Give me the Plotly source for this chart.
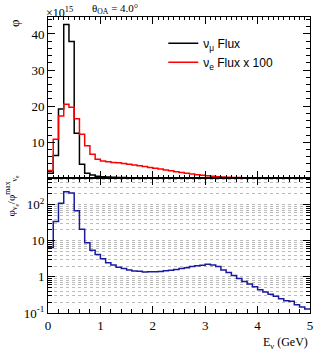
import numpy as np
import plotly.graph_objects as go

# bin edges 0..5 GeV, 0.1 GeV bins
edges = [round(0.1 * i, 1) for i in range(51)]

numu_flux = [1.4, 6.3, 19.2, 42.6, 37.9, 12.5, 3.9, 1.4, 0.9, 0.6,
             0.45, 0.35, 0.3, 0.25, 0.2, 0.17, 0.15, 0.13, 0.12, 0.11,
             0.1, 0.09, 0.08, 0.08, 0.07, 0.07, 0.06, 0.06, 0.06, 0.05,
             0.05, 0.05, 0.04, 0.04, 0.03, 0.03, 0.03, 0.02, 0.02, 0.02,
             0.02, 0.02, 0.01, 0.01, 0.01, 0.01, 0.01, 0.01, 0.01, 0.01]

nue_flux_x100 = [2.2, 10.8, 17.3, 20.5, 19.7, 16.5, 12.2, 9.0, 6.7, 5.3,
                 4.8, 4.6, 4.4, 4.3, 4.1, 3.9, 3.7, 3.5, 3.3, 3.0,
                 2.8, 2.6, 2.3, 2.1, 1.8, 1.6, 1.4, 1.2, 1.0, 0.85,
                 0.7, 0.55, 0.45, 0.36, 0.3, 0.25, 0.21, 0.17, 0.14, 0.12,
                 0.1, 0.08, 0.07, 0.06, 0.05, 0.045, 0.04, 0.035, 0.03, 0.025]

ratio = [6.5, 34, 109, 229, 210, 68, 21, 8.8, 5.5, 4.2,
         3.2, 2.45, 2.15, 1.85, 1.7, 1.55, 1.45, 1.43, 1.36, 1.38,
         1.38, 1.40, 1.47, 1.52, 1.6, 1.72, 1.8, 1.93, 2.05, 2.1,
         2.25, 2.15, 1.93, 1.56, 1.32, 1.09, 0.90, 0.74, 0.64, 0.53,
         0.44, 0.38, 0.33, 0.29, 0.25, 0.22, 0.21, 0.17, 0.146, 0.13]

log_tickvals = [0.1, 1, 10, 100]
log_ticktext = ["10<sup>-1</sup>", "1", "10", "10<sup>2</sup>"]

def step(vals):
    return list(vals) + [vals[-1]]

SERIF = "Liberation Serif"
SANS = "Liberation Sans"

fig = go.Figure()
fig.add_trace(go.Scatter(x=edges, y=step(numu_flux), mode="lines", line_shape="hv",
                         line=dict(color="black", width=1.5),
                         name="ν<sub>μ</sub> Flux", xaxis="x", yaxis="y"))
fig.add_trace(go.Scatter(x=edges, y=step(nue_flux_x100), mode="lines", line_shape="hv",
                         line=dict(color="#ff0000", width=1.5),
                         name="ν<sub>e</sub> Flux x 100", xaxis="x", yaxis="y"))
fig.add_trace(go.Scatter(x=edges, y=step(ratio), mode="lines", line_shape="hv",
                         line=dict(color="#1a1aa0", width=1.5),
                         showlegend=False, xaxis="x2", yaxis="y2"))

axcommon = dict(showline=True, linecolor="black", linewidth=1, mirror="ticks",
                ticks="inside", tickcolor="black", ticklen=7, tickwidth=1,
                zeroline=False, showgrid=False)

fig.update_layout(
    width=327, height=359,
    margin=dict(l=47.5, r=17, t=17, b=45.5),
    paper_bgcolor="white", plot_bgcolor="white",
    font=dict(family=SERIF, size=13, color="black"),
    showlegend=True,
    legend=dict(x=0.44, y=0.96, xanchor="left", yanchor="top",
                bgcolor="rgba(0,0,0,0)", font=dict(family=SANS, size=12),
                tracegroupgap=0, itemwidth=30),
    xaxis=dict(domain=[0, 1], range=[0, 5], anchor="y", showticklabels=False,
               dtick=1, minor=dict(dtick=0.1, ticks="inside", ticklen=3, tickcolor="black"),
               **axcommon),
    yaxis=dict(domain=[0.455, 1], range=[0, 44.7], anchor="x",
               tickvals=[10, 20, 30, 40],
               minor=dict(dtick=2, ticks="inside", ticklen=4, tickcolor="black"),
               **axcommon),
    xaxis2=dict(domain=[0, 1], range=[0, 5], anchor="y2",
                dtick=1, minor=dict(dtick=0.2, ticks="inside", ticklen=4, tickcolor="black"),
                **axcommon),
    yaxis2=dict(domain=[0, 0.455], type="log", range=[-1, 2.73], anchor="x2",
                tickvals=log_tickvals, ticktext=log_ticktext,
                showline=True, linecolor="black", linewidth=1, mirror="ticks",
                ticks="inside", tickcolor="black", ticklen=7, zeroline=False,
                showgrid=True, gridcolor="#bbbbbb", griddash="dot", gridwidth=1,
                minor=dict(dtick="D1", ticks="inside", ticklen=4, tickcolor="black",
                           showgrid=True, gridcolor="#bbbbbb", griddash="dot", gridwidth=1)),
)

annotations = [
    dict(text="×10<sup>15</sup>", x=0, y=1.0, xref="paper", yref="paper",
         xanchor="left", yanchor="bottom", showarrow=False,
         font=dict(family=SERIF, size=12), xshift=-4, yshift=-5),
    dict(text="θ<sub>OA</sub> = 4.0°", x=0.16, y=1.0, xref="paper", yref="paper",
         xanchor="left", yanchor="bottom", showarrow=False,
         font=dict(family=SERIF, size=11), yshift=-1),
    dict(text="φ", x=-0.13, y=1.0, xref="paper", yref="paper",
         xanchor="center", yanchor="top", showarrow=False, textangle=-90,
         font=dict(family=SERIF, size=13)),
    dict(text="φ<sub>ν<sub>e</sub></sub>/φ<sup>max</sup><sub>ν<sub>e</sub></sub>",
         x=-0.14, y=0.395, xref="paper", yref="paper",
         xanchor="center", yanchor="middle", showarrow=False, textangle=-90,
         font=dict(family=SERIF, size=11)),
    dict(text="E<sub>ν</sub> (GeV)", x=1.0, y=0, xref="paper", yref="paper",
         xanchor="right", yanchor="top", showarrow=False,
         font=dict(family=SERIF, size=12), yshift=-20),
]
fig.update_layout(annotations=annotations)

fig.write_html("out.html", config={"displayModeBar": False},
               post_script="document.body.style.margin='0';document.body.style.overflow='hidden';")
